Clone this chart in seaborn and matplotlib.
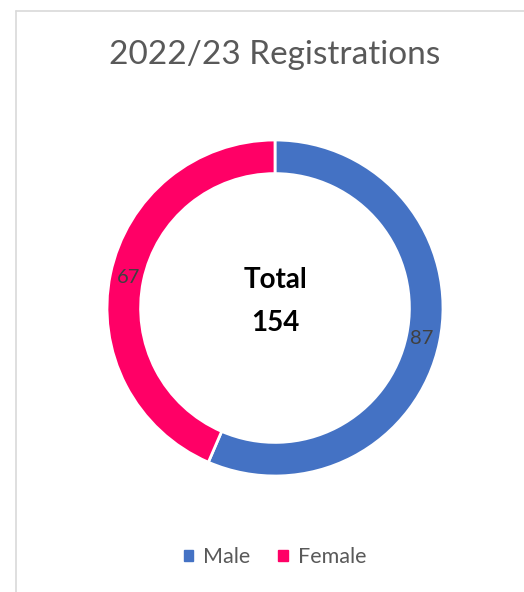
import matplotlib
matplotlib.use("Agg")
import matplotlib.pyplot as plt
from matplotlib.lines import Line2D
from matplotlib.patches import Patch
import numpy as np
import seaborn as sns

# data
labels = ["Male", "Female"]
counts = [87, 67]
colors = ["#4472C4", "#FF0066"]
title = "2022/23 Registrations"

sns.set_theme(style="white")
plt.rcParams['font.family'] = ['Lato', 'DejaVu Sans']

W, H = 524, 592
fig = plt.figure(figsize=(W / 100, H / 100), dpi=100)
fig.patch.set_facecolor("white")

# chart frame (only top + left edges visible in the crop)
fig.add_artist(Line2D([16 / W, 1], [1 - 10.5 / H, 1 - 10.5 / H], color="#D9D9D9", lw=1.2))
fig.add_artist(Line2D([16 / W, 16 / W], [0, 1 - 10.5 / H], color="#D9D9D9", lw=1.2))

cx, cy, r = 275, 308, 168
pad = 172
ax = fig.add_axes([(cx - pad) / W, (H - cy - pad) / H, 2 * pad / W, 2 * pad / H])
wedges, _ = ax.pie(counts, colors=colors, startangle=90, counterclock=False,
                   radius=1, wedgeprops=dict(width=0.2, edgecolor="white", linewidth=2))
ax.set_xlim(-pad / r, pad / r)
ax.set_ylim(-pad / r, pad / r)
ax.set_aspect("equal")
ax.axis("off")

# value labels at mid ring
total = sum(counts)
start = 90
for v in counts:
    span = 360 * v / total
    mid = np.deg2rad(start - span / 2)
    ax.text(0.89 * np.cos(mid), 0.89 * np.sin(mid), str(v), ha="center", va="center",
            fontsize=14.5, color="#404040")
    start -= span

ax.text(0, 0.165, "Total", ha="center", va="center", fontsize=20, fontweight="bold", color="black")
ax.text(0, -0.09, str(total), ha="center", va="center", fontsize=20, fontweight="bold", color="black")

fig.text(cx / W, 1 - 55 / H, title, ha="center", va="center", fontsize=24, color="#595959")

handles = [Patch(facecolor=c, edgecolor=c) for c in colors]
fig.legend(handles, labels, loc="center", bbox_to_anchor=(cx / W, 1 - 557 / H), ncol=2,
           frameon=False, fontsize=15.5, handlelength=0.45, handleheight=0.45,
           handletextpad=0.45, columnspacing=1.3, labelcolor="#595959")

fig.savefig("out.png", dpi=100, facecolor="white")
